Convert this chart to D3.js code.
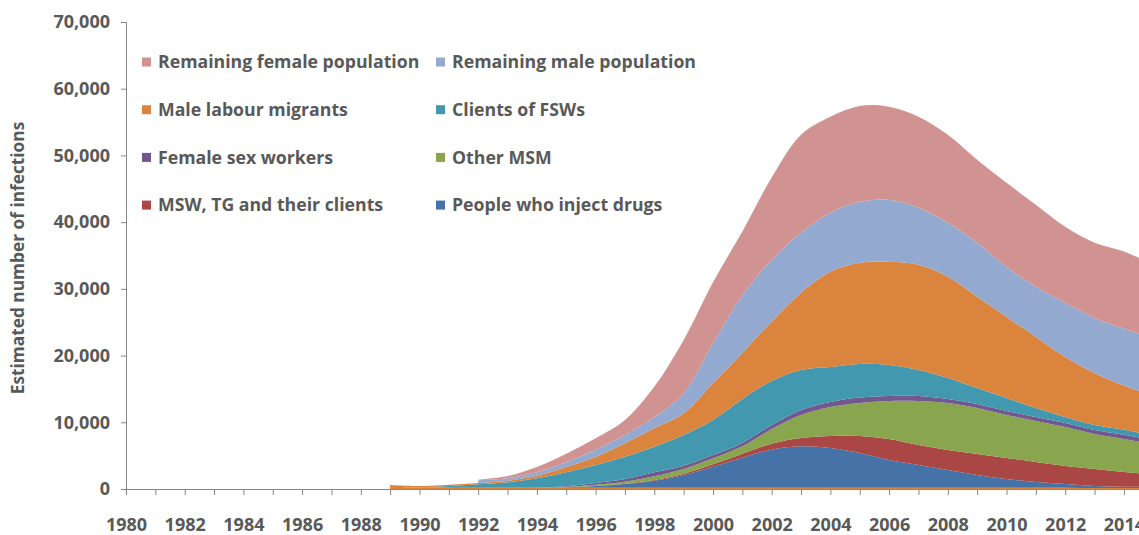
<!DOCTYPE html>
<html>
<head>
<meta charset="utf-8">
<script src="https://cdn.jsdelivr.net/npm/d3@7"></script>
<style>
  body { margin: 0; background: #fff; }
  text { font-family: "Open Sans", "Noto Sans", sans-serif; font-weight: bold; fill: #595959; }
</style>
</head>
<body>
<div id="chart"></div>
<script>
// 資料：每年的估計感染數（各族群，堆疊由下往上）
const years = d3.range(1989, 2016)

const other      = [300, 250, 200, 200, 200, 200, 200, 200, 200, 200, 200, 200, 200, 200, 200, 200, 200, 200, 200, 200, 200, 200, 200, 200, 150, 150, 150]
const pwid       = [0, 0, 0, 0, 0, 0, 50, 250, 550, 1050, 1900, 3150, 4500, 5700, 6200, 5950, 5200, 4150, 3400, 2650, 1900, 1300, 850, 550, 300, 200, 150]
const msw        = [0, 0, 0, 0, 0, 0, 0, 0, 50, 100, 200, 350, 600, 900, 1250, 1800, 2550, 3150, 3000, 3000, 3150, 3150, 3000, 2700, 2550, 2200, 1900]
const otherMsm   = [0, 0, 0, 0, 0, 0, 50, 200, 300, 550, 700, 900, 1100, 2200, 3450, 4350, 4950, 5700, 6600, 7050, 6900, 6450, 6150, 5850, 5250, 4950, 4500]
const fsw        = [0, 0, 0, 0, 0, 0, 100, 250, 400, 600, 500, 500, 500, 600, 750, 750, 800, 750, 750, 600, 600, 600, 600, 600, 600, 650, 600]
const clients    = [0, 0, 250, 500, 800, 1400, 2100, 2700, 3350, 3850, 4600, 5250, 6600, 6600, 6000, 5250, 5050, 4650, 3900, 3150, 2400, 1950, 1350, 900, 750, 750, 650]
const migrants   = [300, 200, 200, 200, 250, 400, 800, 1200, 2000, 2750, 3250, 5500, 6900, 8900, 11550, 14250, 15150, 15450, 15750, 15150, 13650, 12150, 10650, 9000, 7800, 6600, 6000]
const remMale    = [null, null, null, 400, 350, 500, 700, 1100, 1250, 1650, 3000, 6000, 8600, 9250, 9000, 8850, 9150, 9300, 8550, 8100, 8100, 7500, 7500, 8100, 8250, 8550, 8600]
const remFemale  = [null, null, null, 100, 350, 800, 1300, 1700, 2250, 4600, 8000, 9150, 9600, 12350, 14700, 14400, 14350, 13950, 13650, 13200, 12450, 12600, 12300, 11400, 11250, 11550, 11100]

// 各族群名稱與顏色（由下往上）
const seriesNames = ['', 'People who inject drugs', 'MSW, TG and their clients', 'Other MSM', 'Female sex workers',
                     'Clients of FSWs', 'Male labour migrants', 'Remaining male population', 'Remaining female population']
const seriesValues = [other, pwid, msw, otherMsm, fsw, clients, migrants, remMale, remFemale]
const seriesColors = ['#DB843D', '#4572A7', '#AA4643', '#89A54E', '#71588F', '#4198AF', '#DB843D', '#93A9CF', '#D19392']

// 圖例順序（兩欄，逐列）
const legendOrder = ['Remaining female population', 'Remaining male population',
                     'Male labour migrants', 'Clients of FSWs',
                     'Female sex workers', 'Other MSM',
                     'MSW, TG and their clients', 'People who inject drugs']

const yTicks = d3.range(0, 70001, 10000)

function drawChart() {
        const width = 1139, height = 535

        const svg = d3.select('#chart')
                        .append('svg')
                        .attr('width', width)
                        .attr('height', height)

        // 把資料轉成 stack 需要的表格
        const keys = seriesValues.map((v, i) => 's' + i)
        const table = years.map((y, j) => {
                const row = { year: y }
                keys.forEach((k, i) => row[k] = seriesValues[i][j])
                return row
        })

        const xScale = d3.scaleLinear()
                        .domain([1980, 2015])
                        .range([126, 126 + 35 * 29.35])

        const yScale = d3.scaleLinear()
                        .domain([0, 70000])
                        .range([489, 22])

        const stack = d3.stack()
                        .keys(keys)
                        .value((d, k) => d[k] == null ? 0 : d[k])
        const layers = stack(table)

        // 堆疊面積圖
        svg.append('g')
                .selectAll('path')
                .data(layers)
                .join('path')
                .attr('fill', (d, i) => seriesColors[i])
                .attr('d', layer => d3.area()
                        .defined(d => d.data[layer.key] != null)
                        .curve(d3.curveCatmullRom.alpha(0.5))
                        .x(d => xScale(d.data.year))
                        .y0(d => yScale(d[0]))
                        .y1(d => yScale(d[1]))
                        (layer))

        // X 軸：每年一個刻度，每兩年一個標籤
        const xAxis = d3.axisBottom(xScale)
                        .tickValues(d3.range(1980, 2016))
                        .tickFormat(d => d % 2 === 0 ? d : '')
                        .tickSize(6)
                        .tickPadding(23)
        const xAxisGroup = svg.append('g')
                                .attr('transform', 'translate(0,489)')
                                .call(xAxis)
        xAxisGroup.selectAll('text').style('font-size', '18px')

        // Y 軸
        const yAxis = d3.axisLeft(yScale)
                        .tickValues(yTicks)
                        .tickFormat(d3.format(','))
                        .tickSize(5)
                        .tickPadding(11)
        const yAxisGroup = svg.append('g')
                                .attr('transform', 'translate(126,0)')
                                .call(yAxis)
        yAxisGroup.selectAll('text').style('font-size', '18px')

        svg.selectAll('.domain, .tick line')
                .attr('stroke', '#868686')

        // Y 軸標題
        svg.append('text')
                .attr('transform', 'translate(24,258) rotate(-90)')
                .attr('text-anchor', 'middle')
                .style('font-size', '17.3px')
                .text('Estimated number of infections')

        // 圖例
        const legend = svg.append('g')
        legendOrder.forEach((name, i) => {
                const col = i % 2, row = Math.floor(i / 2)
                const x = col === 0 ? 142 : 436
                const y = 62 + row * 47.7
                legend.append('rect')
                        .attr('x', x)
                        .attr('y', y - 4.5)
                        .attr('width', 9)
                        .attr('height', 9)
                        .attr('fill', seriesColors[seriesNames.indexOf(name)])
                legend.append('text')
                        .attr('x', x + 16)
                        .attr('y', y)
                        .attr('dy', '0.35em')
                        .style('font-size', '17.7px')
                        .text(name)
        })
}
drawChart()
</script>
</body>
</html>
